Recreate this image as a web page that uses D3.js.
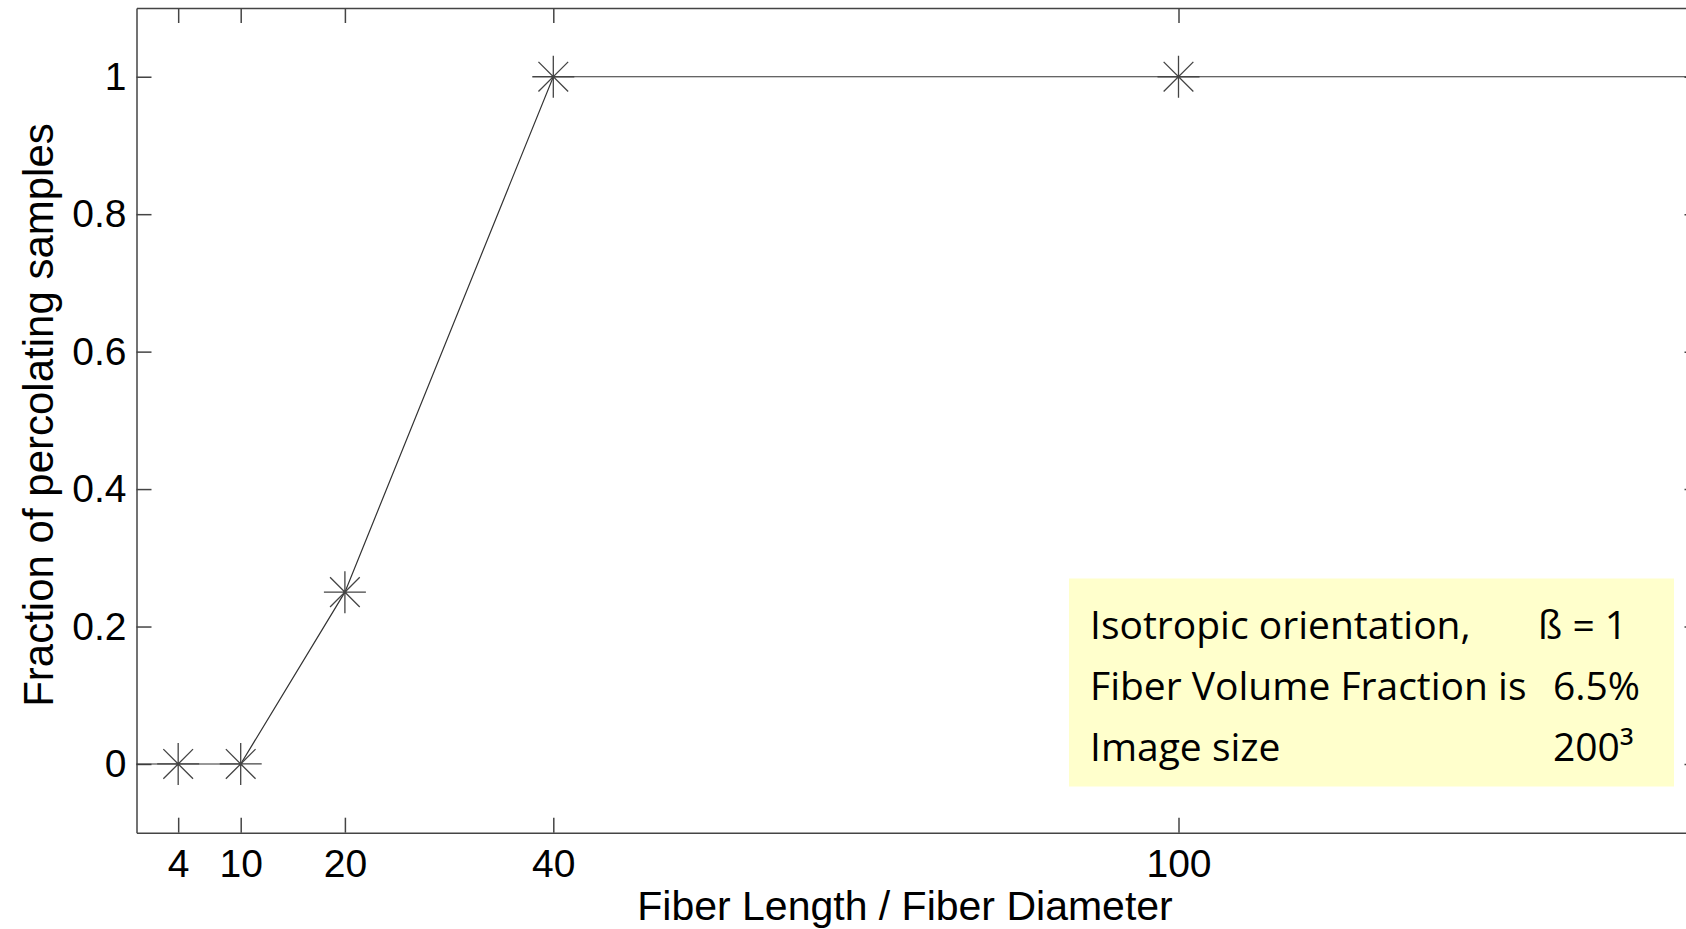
<!DOCTYPE html>
<html>
<head>
<meta charset="utf-8">
<script src="https://cdn.jsdelivr.net/npm/d3@7"></script>
<style>
  html, body { margin: 0; padding: 0; background: #fff; }
  svg { display: block; }
</style>
</head>
<body>
<script>
// data
let lineX = [0, 4, 10, 20, 40, 100, 150];
let lineY = [0, 0, 0, 0.25, 1, 1, 1];
let markX = [4, 10, 20, 40, 100];
let markY = [0, 0, 0.25, 1, 1];

let xTicks = [4, 10, 20, 40, 100];
let yTicks = [0, 0.2, 0.4, 0.6, 0.8, 1];

let legendLeft = ["Isotropic orientation,", "Fiber Volume Fraction is", "Image size"];
let legendRight = ["\u00DF = 1", "6.5%", "200\u00B3"];

let w = 1686, h = 929;
let padL = 136.5, padR = 1699.5, padT = 8, padB = 832.7;
let axisCol = "#444";

let svg = d3.select("body").append("svg")
  .attr("width", w)
  .attr("height", h);

let xScale = d3.scaleLinear().domain([0, 150]).range([padL, padR]);
let yScale = d3.scaleLinear().domain([-0.1, 1.1]).range([padB, padT]);

// axes, ticks pointing inward like matlab
let xAxis = d3.axisBottom(xScale).tickValues(xTicks).tickSize(-15).tickSizeOuter(0).tickPadding(16.6);
let yAxis = d3.axisLeft(yScale).tickValues(yTicks).tickSize(-15).tickSizeOuter(0).tickPadding(10)
  .tickFormat(d => d3.format("")(+d.toFixed(1)));
let xTop = d3.axisTop(xScale).tickValues(xTicks).tickSize(-15).tickSizeOuter(0).tickFormat("");
let yRight = d3.axisRight(yScale).tickValues(yTicks).tickSize(-15).tickSizeOuter(0).tickFormat("");

function style(g) {
  g.selectAll("path, line").attr("stroke", axisCol).attr("stroke-width", 1.5);
  g.selectAll("text")
    .attr("fill", "#000")
    .style("font-family", "'Liberation Sans', Arial, sans-serif")
    .style("font-size", "39px");
}

svg.append("g").attr("transform", "translate(0," + padB + ")").call(xAxis).call(style);
svg.append("g").attr("transform", "translate(" + padL + ",0)").call(yAxis).call(style);
svg.append("g").attr("transform", "translate(0," + padT + ")").call(xTop).call(style);
svg.append("g").attr("transform", "translate(" + padR + ",0)").call(yRight).call(style);

// data line
let line = d3.line().x((d, i) => xScale(lineX[i])).y((d, i) => yScale(lineY[i]));
svg.append("path")
  .datum(lineX)
  .attr("d", line)
  .attr("fill", "none")
  .attr("stroke", "#333")
  .attr("stroke-width", 1.2);

// asterisk markers (+ and x)
let r = 21, q = r * Math.SQRT1_2;
let star = "M0," + (-r) + "V" + r + "M" + (-r) + ",0H" + r +
  "M" + (-q) + "," + (-q) + "L" + q + "," + q +
  "M" + (-q) + "," + q + "L" + q + "," + (-q);

svg.selectAll(".mk")
  .data(markX)
  .enter().append("path")
  .attr("class", "mk")
  .attr("transform", (d, i) => "translate(" + xScale(d) + "," + yScale(markY[i]) + ")")
  .attr("d", star)
  .attr("fill", "none")
  .attr("stroke", "#444")
  .attr("stroke-width", 1.3);

// axis titles
svg.append("text")
  .attr("x", 905)
  .attr("y", 920)
  .attr("text-anchor", "middle")
  .style("font-family", "'Liberation Sans', Arial, sans-serif")
  .style("font-size", "41px")
  .text("Fiber Length / Fiber Diameter");

svg.append("text")
  .attr("transform", "translate(53,415) rotate(-90)")
  .attr("text-anchor", "middle")
  .style("font-family", "'Liberation Sans', Arial, sans-serif")
  .style("font-size", "42px")
  .text("Fraction of percolating samples");

// annotation box
let box = svg.append("g");
box.append("rect")
  .attr("x", 1069).attr("y", 578.5)
  .attr("width", 605).attr("height", 208)
  .attr("fill", "#ffffcc");

let rows = [639.3, 700, 761];
let rightX = [1538, 1553, 1553];
box.selectAll(".lt")
  .data(legendLeft)
  .enter().append("text")
  .attr("x", 1090)
  .attr("y", (d, i) => rows[i])
  .style("font-family", "'Open Sans', 'Noto Sans', sans-serif")
  .style("font-size", "39px")
  .text(d => d);
box.selectAll(".rt")
  .data(legendRight)
  .enter().append("text")
  .attr("x", (d, i) => rightX[i])
  .attr("y", (d, i) => rows[i])
  .style("font-family", "'Open Sans', 'Noto Sans', sans-serif")
  .style("font-size", "39px")
  .text(d => d);
</script>
</body>
</html>
